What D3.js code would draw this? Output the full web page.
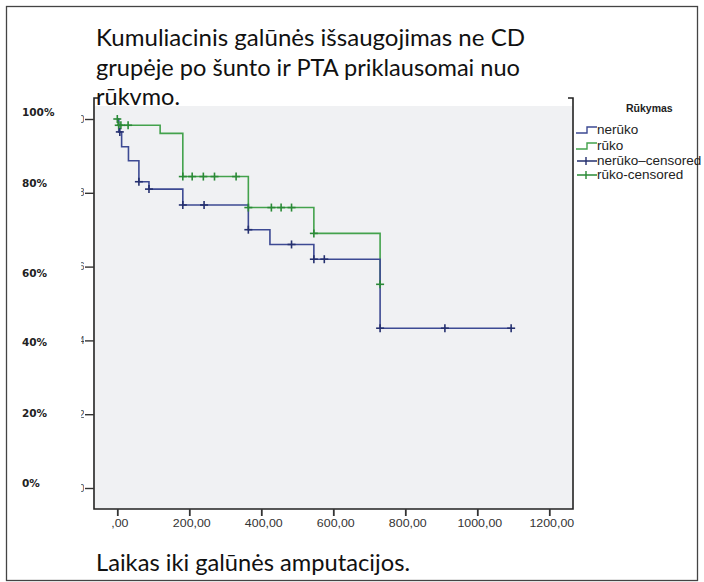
<!DOCTYPE html>
<html><head><meta charset="utf-8">
<script src="https://cdn.jsdelivr.net/npm/d3@7"></script>
<style>body{margin:0;background:#fff}svg{display:block}</style>
</head><body>
<svg id="c" width="704" height="582"></svg>
<script>
// ---- data ----
const titleLines = ["Kumuliacinis galūnės išsaugojimas ne CD", "grupėje po šunto ir PTA priklausomai nuo", "rūkvmo."];
const xTitle = "Laikas iki galūnės amputacijos.";
const legendTitle = "Rūkymas";
const legendItems = ["nerūko", "rūko", "nerūko–censored", "rūko-censored"];
const xTicks = [0, 200, 400, 600, 800, 1000, 1200];
const xTickLabels = [",00", "200,00", "400,00", "600,00", "800,00", "1000,00", "1200,00"];
const yTicks = [0, 20, 40, 60, 80, 100];
const yTickLabels = ["0%", "20%", "40%", "60%", "80%", "100%"];
const yInnerLabels = [",0", ",2", ",4", ",6", ",8", "1,0"];

const nerukoTime = [0, 4, 12, 31, 60, 88, 182, 364, 424, 546, 730, 1094];
const nerukoSurv = [100, 96.5, 92.5, 88.7, 83, 81, 76.7, 70, 66, 62, 43.3, 43.3];
const nerukoCensor = [7, 60, 88, 182, 241, 364, 484, 546, 575, 730, 910, 1094];

const rukoTime = [0, 2, 119, 182, 364, 546, 730];
const rukoSurv = [100, 98.3, 96.1, 84.4, 76, 69, 55.2];
const rukoCensor = [0, 4, 10, 30, 182, 208, 239, 270, 330, 364, 428, 455, 484, 546, 730];

// ---- layout ----
const svg = d3.select("#c");
const blue = "#3d4a93", blueDark = "#25306f";
const green = "#43a24c", greenDark = "#2a8a36";
const frame = {l: 94, r: 573, t: 98, b: 509};
const x = d3.scaleLinear().domain([0, 1200]).range([117.3, 549.3]);
const y = d3.scaleLinear().domain([0, 100]).range([488, 119]);
const yLabelNudge = [-5, -1, 2, 6, -10, -7];
const titleWidths = [429, 424, 84];

// outer border
svg.append("rect").attr("x", 6.5).attr("y", 6.5).attr("width", 691).attr("height", 574)
  .attr("fill", "none").attr("stroke", "#444").attr("stroke-width", 1.3);

// plot background
svg.append("rect").attr("x", frame.l + 1).attr("y", 106).attr("width", frame.r - frame.l - 2)
  .attr("height", frame.b - 106).attr("fill", "#f0f1f3");

// frame
const fr = svg.append("g").attr("stroke", "#222").attr("stroke-width", 1.6).attr("fill", "none");
fr.append("path").attr("d", `M${frame.l + 4},${frame.t}H${frame.l}V${frame.b}H${frame.r}V${frame.t}H${frame.r - 5}`);

// y axis
const ya = svg.append("g").attr("transform", `translate(${frame.l},0)`)
  .call(d3.axisLeft(y).tickValues(yTicks).tickSize(9).tickFormat(""));
ya.select(".domain").remove();
ya.selectAll("line").attr("stroke", "#333").attr("stroke-width", 1.4);

// clipped inner labels (remnants)
svg.append("clipPath").attr("id", "yclip").append("rect").attr("x", 81.2).attr("y", 100).attr("width", 2.8).attr("height", 400);
svg.append("g").attr("clip-path", "url(#yclip)").selectAll("text").data(yTicks).join("text")
  .attr("x", 84.5).attr("y", d => y(d) + 3.5).attr("text-anchor", "end")
  .attr("font-family", "Liberation Sans, Arial").attr("font-size", 10).attr("fill", "#444")
  .text((d, i) => yInnerLabels[i]);

// outer y labels
svg.append("g").selectAll("text").data(yTicks).join("text")
  .attr("x", 22).attr("y", (d, i) => y(d) + yLabelNudge[i] + 4)
  .attr("font-family", "DejaVu Sans, Verdana").attr("font-weight", "bold").attr("font-size", 10.5)
  .attr("fill", "#222").text((d, i) => yTickLabels[i]);

// x axis
const xa = svg.append("g").attr("transform", `translate(0,${frame.b})`)
  .call(d3.axisBottom(x).tickValues(xTicks).tickSize(7).tickPadding(4).tickFormat((d, i) => xTickLabels[i]));
xa.select(".domain").remove();
xa.selectAll("line").attr("stroke", "#333").attr("stroke-width", 1.8);
xa.selectAll("text").attr("font-family", "Liberation Sans, Arial").attr("font-size", 10.5)
  .attr("fill", "#333").attr("transform", "translate(2,0) scale(1.18,1)");

// curves
function stepVal(times, surv, t) {
  let v = surv[0];
  for (let i = 0; i < times.length; i++) if (times[i] <= t) v = surv[i];
  return v;
}
const line = d3.line().x(d => x(d[0])).y(d => y(d[1])).curve(d3.curveStepAfter);
const groups = [
  {t: rukoTime, s: rukoSurv, c: rukoCensor, col: green, dark: greenDark},
  {t: nerukoTime, s: nerukoSurv, c: nerukoCensor, col: blue, dark: blueDark}
];
groups.forEach(g => {
  svg.append("path").attr("d", line(g.t.map((t, i) => [t, g.s[i]])))
    .attr("fill", "none").attr("stroke", g.col).attr("stroke-width", 1.6);
});
groups.forEach(g => {
  const cg = svg.append("g").attr("stroke", g.dark).attr("stroke-width", 1.6);
  g.c.forEach(t => {
    const cx = x(t), cy = y(stepVal(g.t, g.s, t));
    cg.append("line").attr("x1", cx).attr("x2", cx).attr("y1", cy - 4).attr("y2", cy + 4);
    cg.append("line").attr("x1", cx - 4).attr("x2", cx + 4).attr("y1", cy).attr("y2", cy);
  });
});

// title
svg.append("g").selectAll("text").data(titleLines).join("text")
  .attr("x", 96).attr("y", (d, i) => 46 + i * 29.5)
  .attr("font-family", "Lato, Open Sans").attr("font-size", 23.5).attr("fill", "#111")
  .attr("textLength", (d, i) => titleWidths[i]).attr("lengthAdjust", "spacingAndGlyphs")
  .text(d => d);

// x title
svg.append("text").attr("x", 96).attr("y", 571)
  .attr("font-family", "Lato, Open Sans").attr("font-size", 23.5).attr("fill", "#111")
  .attr("textLength", 314).attr("lengthAdjust", "spacingAndGlyphs").text(xTitle);

// legend
svg.append("text").attr("x", 626).attr("y", 112).attr("font-family", "Liberation Sans, Arial")
  .attr("font-weight", "bold").attr("font-size", 10.5).attr("fill", "#222").text(legendTitle);
const legY = [130, 146, 161, 175];
const legCols = [blue, green, blueDark, greenDark];
legendItems.forEach((name, i) => {
  const ly = legY[i];
  const g = svg.append("g");
  if (i < 2) {
    g.append("path").attr("d", `M576,${ly + 3}H587V${ly - 3}H597`).attr("fill", "none")
      .attr("stroke", legCols[i]).attr("stroke-width", 1.4);
  } else {
    g.append("path").attr("d", `M577,${ly}H597M586,${ly - 4}V${ly + 4}`).attr("fill", "none")
      .attr("stroke", legCols[i]).attr("stroke-width", 1.4);
  }
  g.append("text").attr("x", 597).attr("y", ly + 4).attr("font-family", "Liberation Sans, Arial")
    .attr("font-size", 13.5).attr("fill", "#222").text(name);
});
</script>
</body></html>
